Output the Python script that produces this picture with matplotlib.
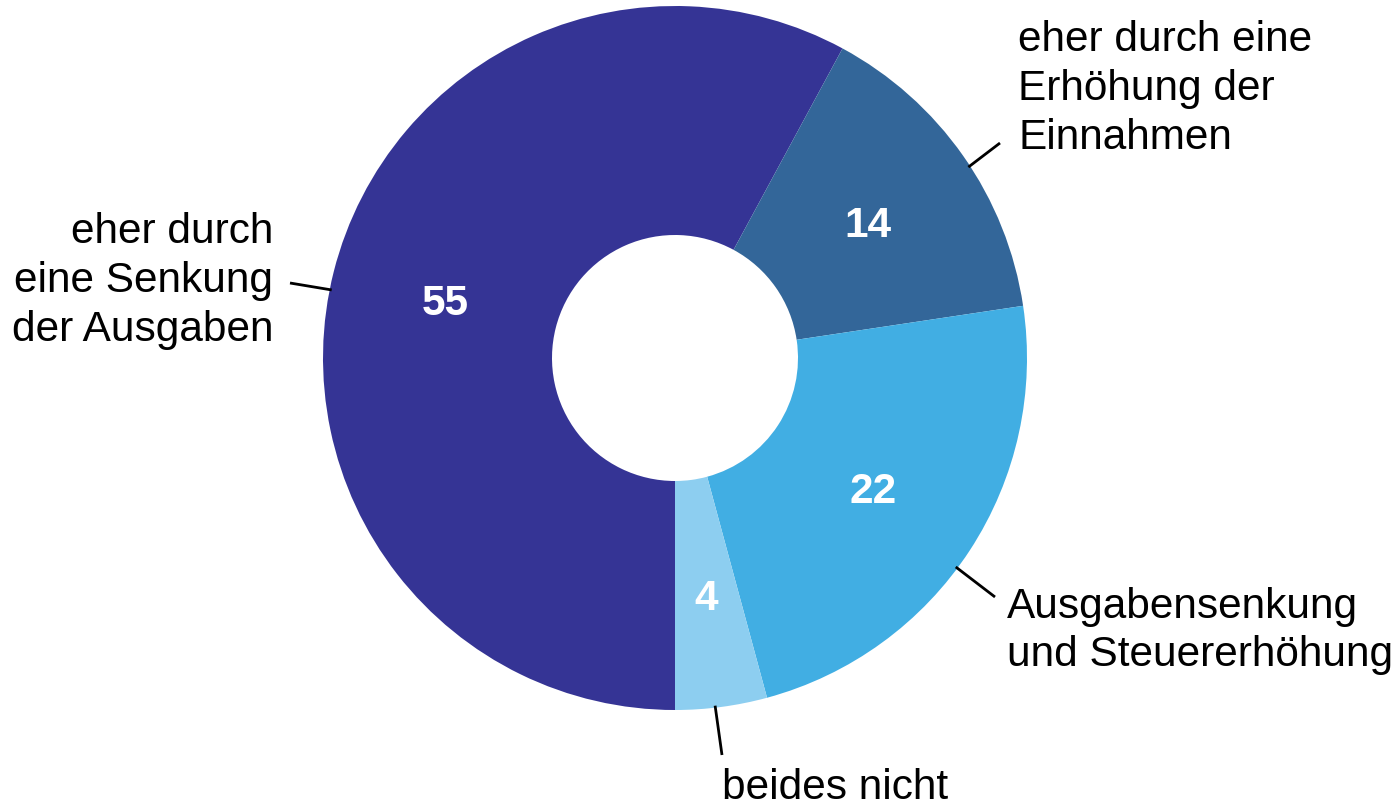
import matplotlib
matplotlib.use("Agg")
import matplotlib.pyplot as plt
import numpy as np

plt.rcParams['font.family'] = ['Liberation Sans', 'DejaVu Sans']

categories = ["eher durch\neine Senkung\nder Ausgaben",
              "eher durch eine\nErhöhung der\nEinnahmen",
              "Ausgabensenkung\nund Steuererhöhung",
              "beides nicht"]
values = [55, 14, 22, 4]
colors = ["#353495", "#336699", "#41AEE3", "#8DCEF0"]

W, H = 1396, 806
fig = plt.figure(figsize=(W / 100, H / 100), dpi=100)
ax = fig.add_axes([0, 0, 1, 1])

cx, cy = 675, H - 358
R = 352
r_in = 123
wedges, _ = ax.pie(values, colors=colors, startangle=-90, counterclock=False,
                   radius=R, center=(cx, cy), frame=True,
                   wedgeprops=dict(width=R - r_in, linewidth=0))
ax.set_xlim(0, W)
ax.set_ylim(0, H)
ax.set_aspect('equal')
ax.axis('off')

FS = 30.5

# value labels (inside wedge) : positions in pixel coords (layout)
val_pos = [(445, 304), (868, 226), (873, 492), (706, 599)]
for v, (x, y) in zip(values, val_pos):
    ax.text(x, H - y, str(v), color='white', fontsize=FS, fontweight='bold',
            ha='center', va='center')

# leader lines: start on outer edge near wedge middle angle, end near label
ang_off = [3.0, -2.0, -3.5, -1.0]
line_end = [(290, 283), (1000, 143), (995, 597), (722, 755)]
for w, off, (ex, ey) in zip(wedges, ang_off, line_end):
    ang = np.deg2rad((w.theta1 + w.theta2) / 2 + off)
    sx, sy = cx + (R - 2) * np.cos(ang), cy + (R - 2) * np.sin(ang)
    ax.plot([sx, ex], [sy, H - ey], color='black', lw=2, solid_capstyle='butt')

# outer labels
ax.text(273, H - 281, categories[0], ha='right', va='center', fontsize=FS,
        linespacing=1.29)
ax.text(1018, H - 89, categories[1], ha='left', va='center', fontsize=FS,
        linespacing=1.29)
ax.text(1007, H - 631, categories[2], ha='left', va='center', fontsize=FS,
        linespacing=1.29)
ax.text(722, H - 788, categories[3], ha='left', va='center', fontsize=FS,
        linespacing=1.29)

fig.savefig("out.png", dpi=100)
